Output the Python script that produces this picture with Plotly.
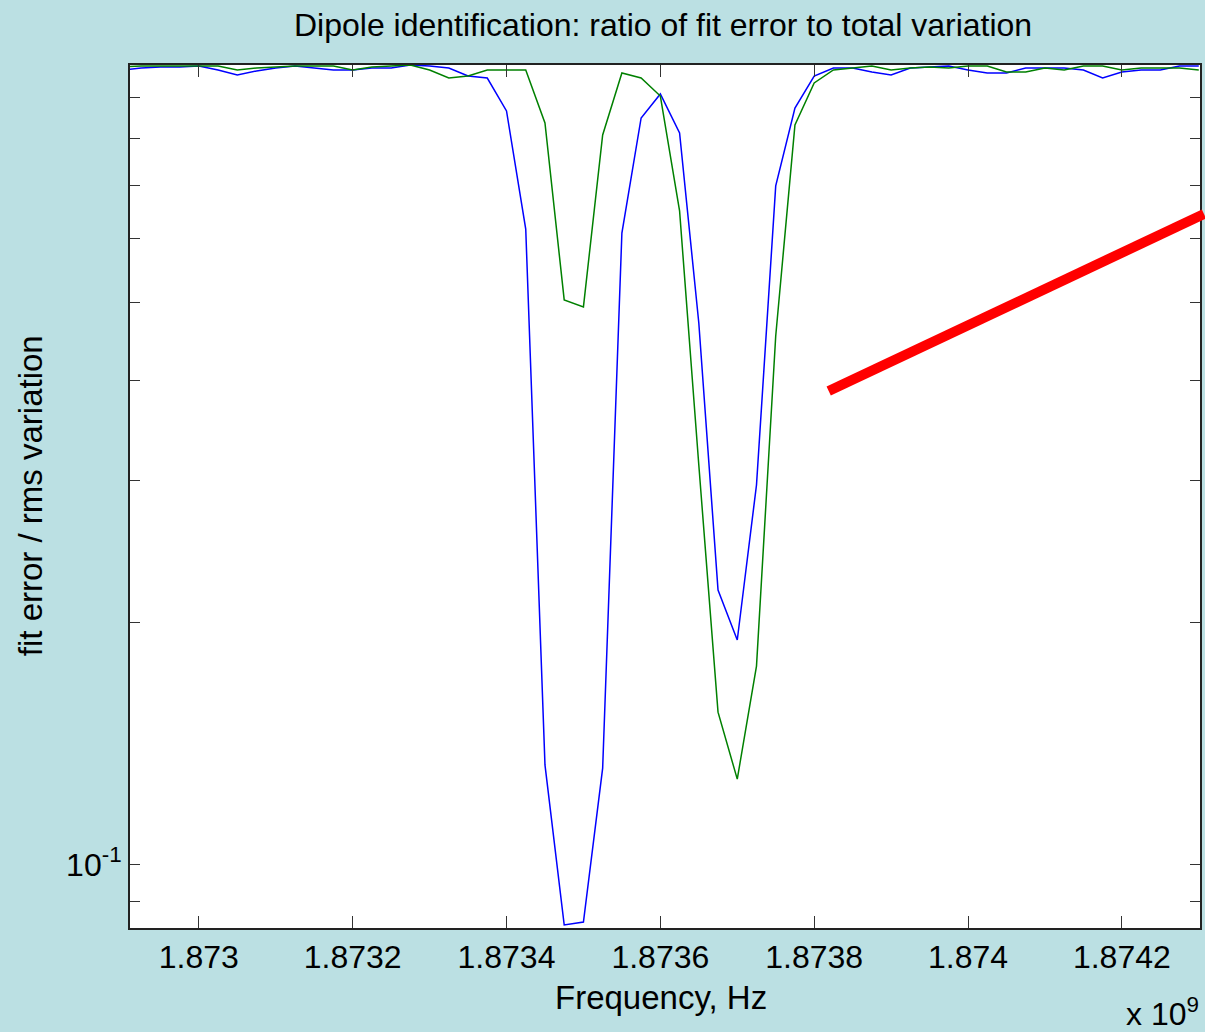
import plotly.graph_objects as go

# ---- data ----
freq_ghz = [1.872900, 1.872925, 1.872950, 1.872975, 1.873000, 1.873025, 1.873050, 1.873075,
            1.873100, 1.873125, 1.873150, 1.873175, 1.873200, 1.873225, 1.873250, 1.873275,
            1.873300, 1.873325, 1.873350, 1.873375, 1.873400, 1.873425, 1.873450, 1.873475,
            1.873500, 1.873525, 1.873550, 1.873575, 1.873600, 1.873625, 1.873650, 1.873675,
            1.873700, 1.873725, 1.873750, 1.873775, 1.873800, 1.873825, 1.873850, 1.873875,
            1.873900, 1.873925, 1.873950, 1.873975, 1.874000, 1.874025, 1.874050, 1.874075,
            1.874100, 1.874125, 1.874150, 1.874175, 1.874200, 1.874225, 1.874250, 1.874275,
            1.874300]

ratio_blue = [0.9732, 0.9788, 0.9816, 0.9816, 0.9844, 0.9732, 0.9593, 0.9704,
              0.9788, 0.9844, 0.9788, 0.9732, 0.9732, 0.9788, 0.9788, 0.9872,
              0.9844, 0.9788, 0.9566, 0.9511, 0.8654, 0.6171, 0.1330, 0.0841,
              0.0848, 0.1318, 0.6101, 0.8482, 0.9085, 0.8126, 0.4716, 0.2195,
              0.1902, 0.2965, 0.6982, 0.8727, 0.9566, 0.9788, 0.9788, 0.9676,
              0.9593, 0.9788, 0.9816, 0.9844, 0.9732, 0.9648, 0.9648, 0.9788,
              0.9788, 0.9788, 0.9732, 0.9511, 0.9676, 0.9732, 0.9732, 0.9844,
              0.9844]

ratio_green = [0.9816, 0.9844, 0.9844, 0.9844, 0.9844, 0.9844, 0.9732, 0.9788,
               0.9816, 0.9844, 0.9844, 0.9844, 0.9732, 0.9816, 0.9844, 0.9872,
               0.9732, 0.9511, 0.9566, 0.9732, 0.9732, 0.9732, 0.8362, 0.5037,
               0.4938, 0.8080, 0.9648, 0.9511, 0.9033, 0.6500, 0.3140, 0.1547,
               0.1277, 0.1765, 0.4543, 0.8314, 0.9376, 0.9732, 0.9788, 0.9844,
               0.9732, 0.9788, 0.9816, 0.9788, 0.9844, 0.9844, 0.9676, 0.9676,
               0.9788, 0.9732, 0.9844, 0.9844, 0.9732, 0.9788, 0.9788, 0.9788,
               0.9732]

x_tick_ghz = [1.873, 1.8732, 1.8734, 1.8736, 1.8738, 1.874, 1.8742]
x_tick_text = ["1.873", "1.8732", "1.8734", "1.8736", "1.8738", "1.874", "1.8742"]
y_tick_vals = [0.09, 0.1, 0.2, 0.3, 0.4, 0.5, 0.6, 0.7, 0.8, 0.9]
y_tick_text = ["", "10<sup>-1</sup>", "", "", "", "", "", "", "", ""]

freq_hz = [f * 1e9 for f in freq_ghz]
x_tick_hz = [f * 1e9 for f in x_tick_ghz]

FONT = "Liberation Sans, Arial, Helvetica, sans-serif"
BG = "#BBE0E3"

fig = go.Figure()
fig.add_trace(go.Scatter(x=freq_hz, y=ratio_blue, mode="lines",
                         line=dict(color="#0000FF", width=1.5), showlegend=False))
fig.add_trace(go.Scatter(x=freq_hz, y=ratio_green, mode="lines",
                         line=dict(color="#008000", width=1.5), showlegend=False))

L, R, T, B = 130, 3, 65, 104
W, H = 1205, 1032
pw, ph = W - L - R, H - T - B

def px(x):
    return (x - L) / pw

def py(y):
    return (H - B - y) / ph

fig.update_layout(
    width=W, height=H,
    margin=dict(l=L, r=R, t=T, b=B, pad=0),
    paper_bgcolor=BG, plot_bgcolor="white",
    font=dict(family=FONT, size=32, color="black"),
    xaxis=dict(
        range=[1.8729105e9, 1.8743016e9],
        tickvals=x_tick_hz, ticktext=x_tick_text,
        ticks="inside", ticklen=12, tickwidth=1, tickcolor="#333333",
        showline=True, linecolor="#222222", linewidth=2, mirror="ticks",
        showgrid=False, zeroline=False,
        tickfont=dict(size=32),
    ),
    yaxis=dict(
        type="log",
        range=[-1.0790, -0.0056],
        tickvals=y_tick_vals, ticktext=y_tick_text,
        ticks="inside", ticklen=10, tickwidth=1, tickcolor="#333333",
        showline=True, linecolor="#222222", linewidth=2, mirror="ticks",
        showgrid=False, zeroline=False,
        tickfont=dict(size=32),
    ),
    shapes=[dict(type="line", xref="paper", yref="paper",
                 x0=px(830), y0=py(391), x1=px(1206), y1=py(214),
                 line=dict(color="#FF0000", width=10))],
    annotations=[
        dict(text="Dipole identification: ratio of fit error to total variation",
             xref="paper", yref="paper", x=px(664), y=py(25),
             xanchor="center", yanchor="middle", showarrow=False,
             font=dict(size=32)),
        dict(text="Frequency, Hz", xref="paper", yref="paper",
             x=px(662), y=py(997), xanchor="center", yanchor="middle",
             showarrow=False, font=dict(size=33)),
        dict(text="fit error / rms variation", xref="paper", yref="paper",
             x=px(30), y=py(496), xanchor="center", yanchor="middle",
             textangle=-90, showarrow=False, font=dict(size=33)),
        dict(text="x 10<sup>9</sup>", xref="paper", yref="paper",
             x=px(1203), y=py(1012), xanchor="right", yanchor="middle",
             showarrow=False, font=dict(size=32)),
    ],
)

fig.write_html("out.html")
